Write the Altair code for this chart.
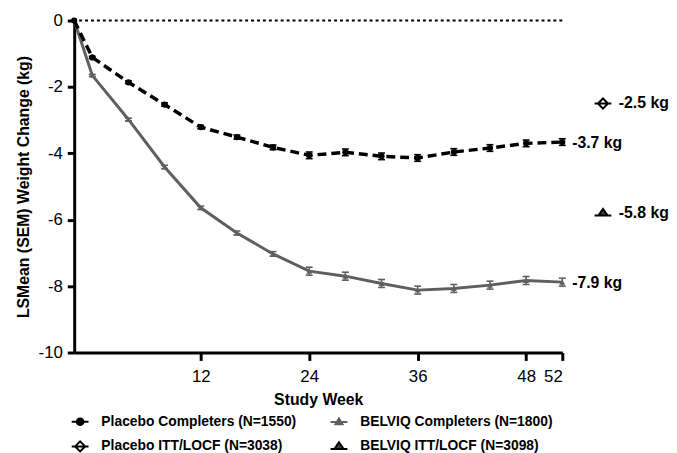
import altair as alt
import pandas as pd

# ---- data ----
weeks = [-2, 0, 4, 8, 12, 16, 20, 24, 28, 32, 36, 40, 44, 48, 52]
placebo_mean = [0, -1.11, -1.86, -2.53, -3.21, -3.51, -3.82, -4.06, -3.97, -4.09, -4.14, -3.96, -3.84, -3.70, -3.66]
placebo_sem = [0, 0.03, 0.04, 0.05, 0.05, 0.06, 0.07, 0.10, 0.10, 0.10, 0.10, 0.10, 0.10, 0.10, 0.10]
belviq_mean = [0, -1.65, -2.98, -4.41, -5.64, -6.40, -7.03, -7.55, -7.70, -7.92, -8.12, -8.07, -7.97, -7.83, -7.88]
belviq_sem = [0, 0.03, 0.04, 0.05, 0.05, 0.06, 0.07, 0.12, 0.12, 0.12, 0.12, 0.12, 0.12, 0.12, 0.12]

# legend order (column-major: left column first)
series_names = [
    "Placebo Completers (N=1550)",
    "Placebo ITT/LOCF (N=3038)",
    "BELVIQ Completers (N=1800)",
    "BELVIQ ITT/LOCF (N=3098)",
]
itt_series = ["Placebo ITT/LOCF (N=3038)", "BELVIQ ITT/LOCF (N=3098)"]
itt_week = [56.5, 56.5]
itt_mean = [-2.5, -5.8]
itt_labels = ["-2.5 kg", "-5.8 kg"]
end_week = [52, 52]
end_mean = [-3.7, -7.9]
end_labels = ["-3.7 kg", "-7.9 kg"]
x_ticks = [12, 24, 36, 48, 52]
y_ticks = [0, -2, -4, -6, -8, -10]

FONT = "Liberation Sans"
GRAY = "#5f5f5f"

df = pd.DataFrame({
    "week": weeks + weeks,
    "mean": placebo_mean + belviq_mean,
    "sem": placebo_sem + belviq_sem,
    "group": ["Placebo"] * len(weeks) + ["BELVIQ"] * len(weeks),
})
df["lo"] = df["mean"] - df["sem"]
df["hi"] = df["mean"] + df["sem"]
err = df[df["sem"] > 0]

itt = pd.DataFrame({"week": itt_week, "mean": itt_mean, "series": itt_series, "label": itt_labels})
ends = pd.DataFrame({"week": end_week, "mean": end_mean, "label": end_labels})
zero = pd.DataFrame({"mean": [0]})

xscale = alt.Scale(domain=[weeks[0], weeks[-1]], nice=False, zero=False)
yscale = alt.Scale(domain=[min(y_ticks), max(y_ticks)], nice=False)
xaxis = alt.Axis(values=x_ticks, title="Study Week", tickSize=8, labelPadding=8, titlePadding=8)
yaxis = alt.Axis(values=y_ticks, title="LSMean (SEM) Weight Change (kg)", tickSize=7,
                 labelPadding=5, titlePadding=7,
                 labelExpr="datum.value < 0 ? '-' + abs(datum.value) : '' + datum.value")

def X(field="week"):
    return alt.X(f"{field}:Q", scale=xscale, axis=xaxis)

def Y(field="mean"):
    return alt.Y(f"{field}:Q", scale=yscale, axis=yaxis)

zero_line = alt.Chart(zero).mark_rule(strokeDash=[3, 3], strokeWidth=2, color="black").encode(y=Y())

base = alt.Chart(df)
bel_line = base.transform_filter(alt.datum.group == "BELVIQ").mark_line(
    strokeWidth=3, color=GRAY).encode(x=X(), y=Y())
pla_line = base.transform_filter(alt.datum.group == "Placebo").mark_line(
    strokeWidth=3.5, strokeDash=[9, 5], color="black").encode(x=X(), y=Y())

cap = "M-1,0L1,0"
ebase = alt.Chart(err)
def errbars(group, color):
    e = ebase.transform_filter(alt.datum.group == group)
    r = e.mark_rule(strokeWidth=1.6, color=color).encode(x=X(), y=Y("lo"), y2="hi")
    c1 = e.mark_point(shape=cap, size=49, strokeWidth=1.6, color=color, opacity=1).encode(x=X(), y=Y("lo"))
    c2 = e.mark_point(shape=cap, size=49, strokeWidth=1.6, color=color, opacity=1).encode(x=X(), y=Y("hi"))
    return [r, c1, c2]

bel_pts = base.transform_filter(alt.datum.group == "BELVIQ").mark_point(
    shape="triangle-up", size=34, filled=True, color=GRAY, opacity=1).encode(x=X(), y=Y())
pla_pts = base.transform_filter(alt.datum.group == "Placebo").mark_point(
    shape="circle", size=40, filled=True, color="black", opacity=1).encode(x=X(), y=Y())

shapes = [
    "M-1,0L1,0M0.4,0A0.4,0.4,0,1,1,-0.4,0A0.4,0.4,0,1,1,0.4,0Z",
    "M-1,0L1,0M0,-0.6L0.6,0L0,0.6L-0.6,0Z",
    "M-1,0L1,0M0,-0.42L0.42,0.28L-0.42,0.28Z",
    "M-1,0.3L1,0.3M0,-0.5L0.55,0.3L-0.55,0.3Z",
]
fills = ["black", "white", GRAY, "#3c3c3c"]
strokes = ["black", "black", GRAY, "black"]

legend = alt.Legend(
    orient="none", legendX=-3.5, legendY=396.5, columns=2, title=None,
    labelFont=FONT, labelFontSize=14, labelFontWeight="bold", labelColor="black",
    labelLimit=0, symbolSize=289, symbolStrokeWidth=2, labelOffset=12, columnPadding=30,
    rowPadding=8, padding=0, symbolOpacity=1,
)

itt_pts = alt.Chart(itt).mark_point(size=289, filled=True, strokeWidth=2, opacity=1).encode(
    x=X(), y=Y(),
    shape=alt.Shape("series:N", scale=alt.Scale(domain=series_names, range=shapes), legend=legend),
    fill=alt.Fill("series:N", scale=alt.Scale(domain=series_names, range=fills), legend=legend),
    stroke=alt.Stroke("series:N", scale=alt.Scale(domain=series_names, range=strokes), legend=legend),
)

itt_text = alt.Chart(itt).mark_text(align="left", baseline="middle", dx=16, font=FONT,
                                    fontSize=16, fontWeight="bold", color="black").encode(
    x=X(), y=Y(), text="label:N")
end_text = alt.Chart(ends).mark_text(align="left", baseline="middle", dx=10, font=FONT,
                                     fontSize=16, fontWeight="bold", color="black").encode(
    x=X(), y=Y(), text="label:N")

layers = [zero_line, bel_line, pla_line] + errbars("BELVIQ", GRAY) + errbars("Placebo", "black") + \
         [bel_pts, pla_pts, itt_pts, itt_text, end_text]

chart = alt.layer(*layers).properties(
    width=494, height=336,
    autosize=alt.AutoSizeParams(type="none"),
    padding={"left": 67, "top": 10, "right": 108, "bottom": 99},
).configure_view(stroke=None).configure_axis(
    grid=False, domainColor="black", domainWidth=3, tickColor="black", tickWidth=3,
    labelColor="black", labelFont=FONT, labelFontSize=17, titleFont=FONT, titleFontSize=16,
    titleFontWeight="bold", titleColor="black",
)

chart.save("out.html", embed_options={"renderer": "svg", "actions": False})
